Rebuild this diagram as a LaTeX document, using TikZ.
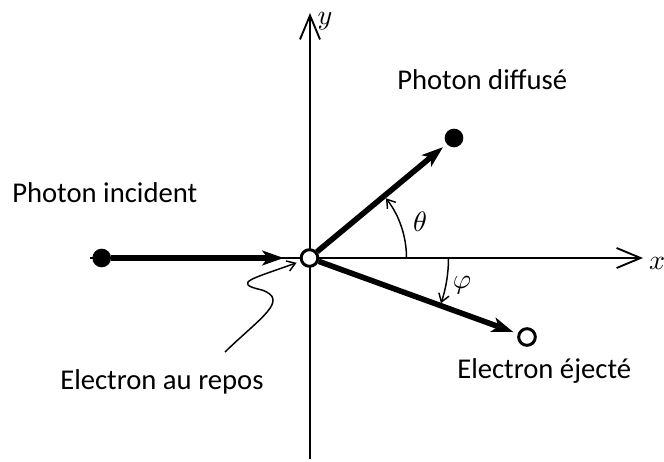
\documentclass[tikz,border=0pt]{standalone}
\usepackage{fontspec}
\setmainfont{Carlito}
\usetikzlibrary{arrows.meta,calc}
\begin{document}
\begin{tikzpicture}[x=0.75pt,y=0.75pt,
 axis/.style={line width=1.4pt,-{Straight Barb[length=18pt,width=15pt,line width=1.4pt]}},
 photon/.style={line width=4.2pt,-{Stealth[length=16pt,width=11pt,inset=4pt]}},
 dotn/.style={circle,fill=black,inner sep=0pt,minimum size=14pt},
 ringn/.style={circle,draw=black,fill=white,line width=2.2pt,inner sep=0pt,minimum size=12.5pt},
 lbl/.style={font=\fontsize{21.5}{26}\selectfont,inner sep=0pt,anchor=base west},
 mlbl/.style={scale=2.1,inner sep=0pt},
 thinarr/.style={line width=1.1pt,-{Straight Barb[length=6pt,width=8pt]}},
]
\useasboundingbox (0,0) rectangle (664,461);
\coordinate (xl) at (90,203);
\coordinate (xr) at (643,203);
\coordinate (yb) at (310,2);
\coordinate (yt) at (310,448);
\draw[axis] (xl) -- (xr);
\draw[axis] (yb) -- (yt);
\node[dotn] (inc) at (101.7,203) {};
\node[dotn] (pd) at (454,323) {};
\node[ringn] (O) at (309.5,203) {};
\node[ringn] (ee) at (527,124) {};
\draw[photon, shorten >=12pt] (inc) -- (O);
\draw[photon, shorten >=3.5pt] (O) -- (pd);
\draw[photon, shorten >=3.5pt] (O) -- (ee);
\draw[thinarr] ([shift={(0:97)}]O.center) arc[start angle=0,end angle=38,radius=97];
\draw[thinarr] ([shift={(0:139)}]O.center) arc[start angle=0,end angle=-19,radius=139];
\coordinate (ptr) at (225,109);
\draw[thinarr, shorten >=3pt] (ptr) .. controls (260,143) and (290,161) .. (262,171) .. controls (230,178) and (255,183) .. (O);
\node[lbl] (t1) at (12,258) {Photon incident};
\node[lbl] (t2) at (397,371) {Photon diffusé};
\node[lbl] (t3) at (60,72) {Electron au repos};
\node[lbl] (t4) at (457,83) {Electron éjecté};
\node[mlbl] (th) at (420,239) {$\theta$};
\node[mlbl] (ph) at (462,176) {$\varphi$};
\node[mlbl] (yl) at (325,440) {$y$};
\node[mlbl] (xlab) at (657,198) {$x$};
\end{tikzpicture}
\end{document}
